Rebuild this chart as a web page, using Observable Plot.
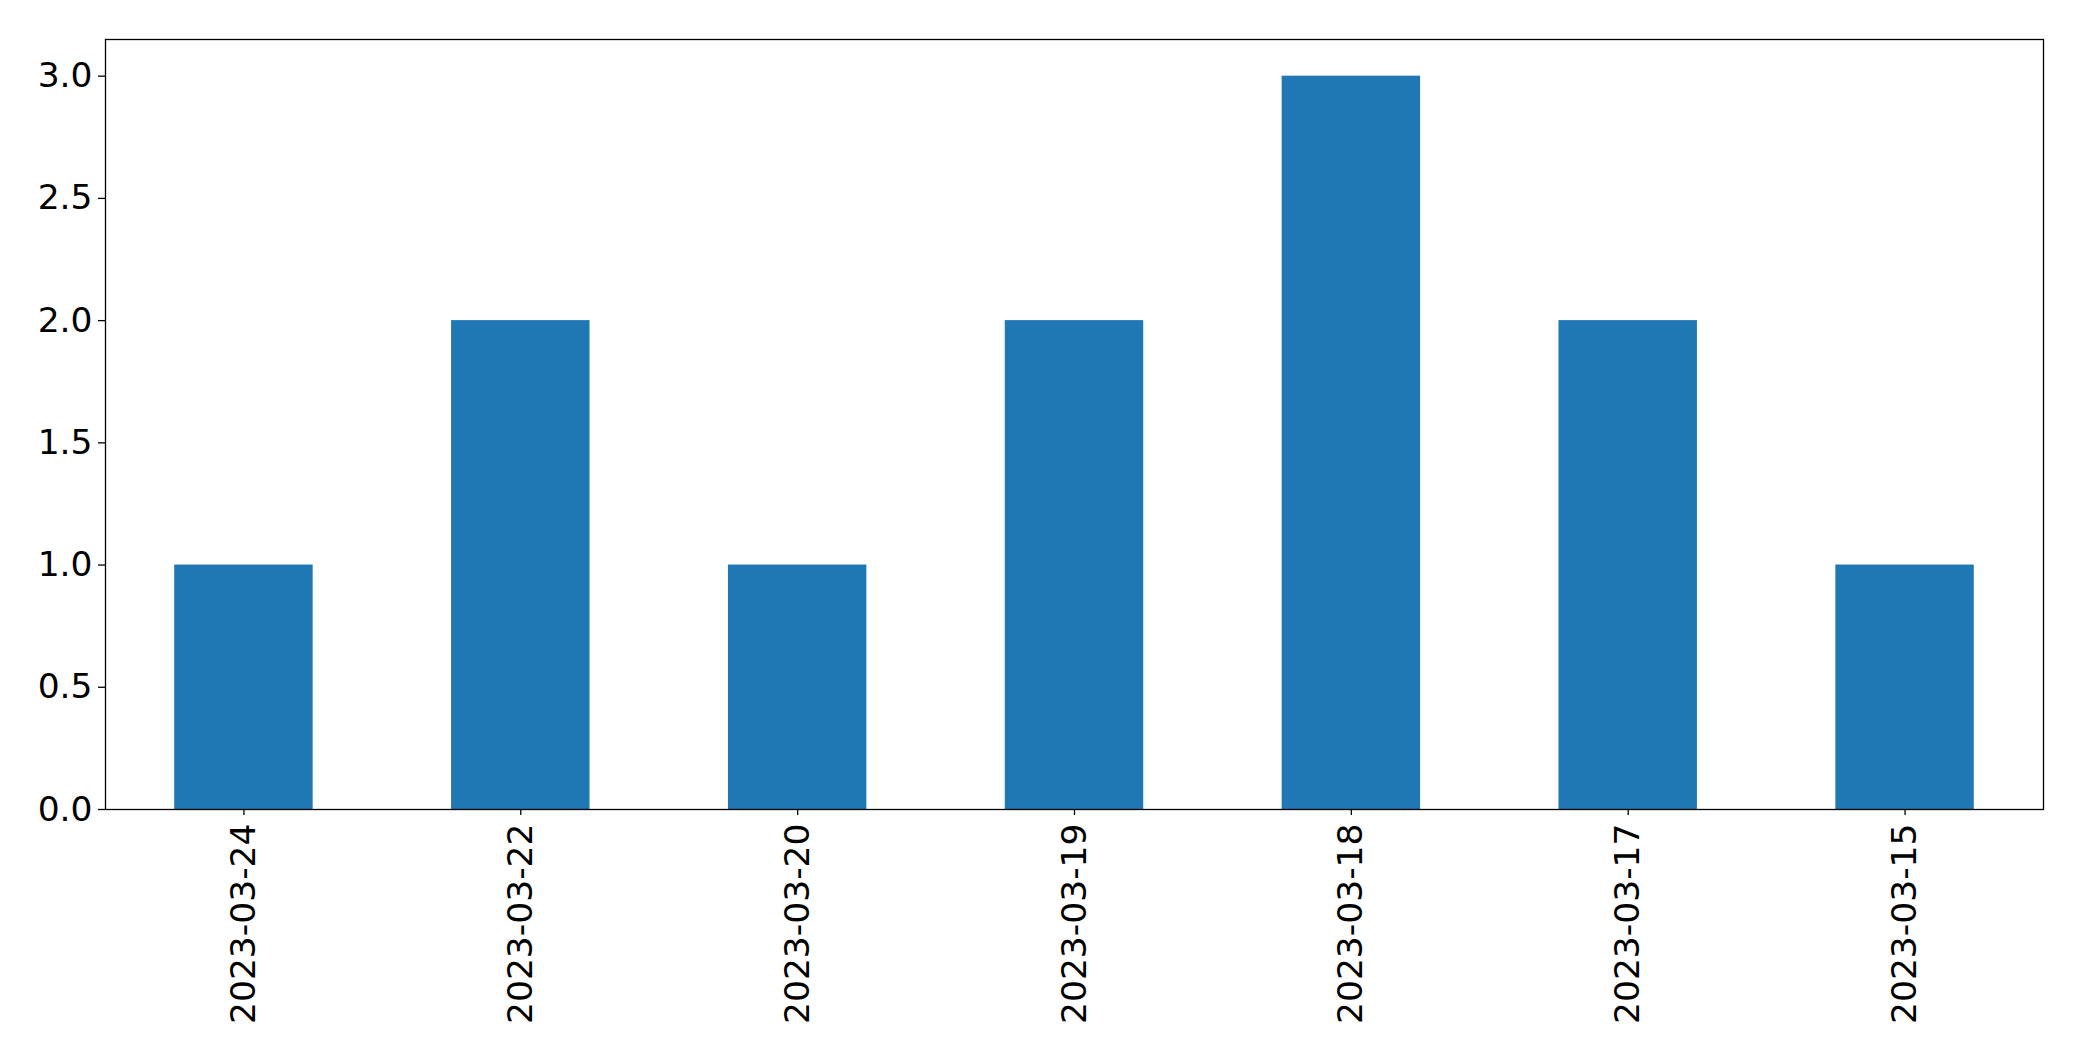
<!DOCTYPE html>
<html>
<head>
<meta charset="utf-8">
<script src="https://cdn.jsdelivr.net/npm/d3@7"></script>
<script src="https://cdn.jsdelivr.net/npm/@observablehq/plot@0.6"></script>
<style>
  html, body { margin: 0; padding: 0; background: #fff; }
  svg { display: block; }
</style>
</head>
<body>
<div id="chart"></div>
<script>
const dates = ["2023-03-24", "2023-03-22", "2023-03-20", "2023-03-19", "2023-03-18", "2023-03-17", "2023-03-15"];
const counts = [1, 2, 1, 2, 3, 2, 1];
const yTicks = [0, 0.5, 1.0, 1.5, 2.0, 2.5, 3.0];

const data = dates.map((d, i) => ({date: d, count: counts[i]}));

const chart = Plot.plot({
  width: 2082,
  height: 1061,
  marginLeft: 105,
  marginRight: 39,
  marginTop: 39,
  marginBottom: 252,
  style: {fontFamily: "DejaVu Sans", fontSize: "34.5px", color: "#000", background: "#fff"},
  x: {domain: dates, paddingInner: 0.5, paddingOuter: 0.25, round: false, label: null},
  y: {domain: [0, 3.15], label: null},
  marks: [
    Plot.barY(data, {x: "date", y: "count", fill: "#1f77b4"}),
    Plot.frame({stroke: "#000", strokeWidth: 1.3}),
    Plot.axisY({ticks: yTicks, tickFormat: d3.format(".1f"), tickSize: 7, tickPadding: 6, fontSize: 34.5, label: null, stroke: "#000", strokeWidth: 1.3}),
    Plot.axisX({tickSize: 6, tickPadding: 8, tickRotate: -90, fontSize: 34.5, label: null, stroke: "#000", strokeWidth: 1.3})
  ]
});
document.getElementById("chart").appendChild(chart);
</script>
</body>
</html>
